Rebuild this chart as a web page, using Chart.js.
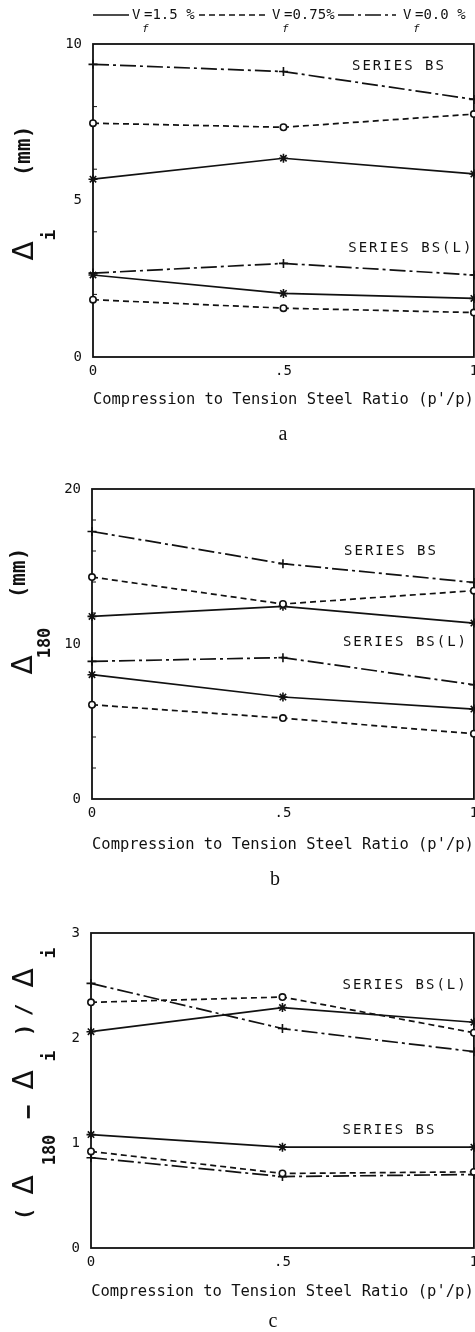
<!DOCTYPE html>
<html>
<head>
<meta charset="utf-8">
<script src="https://cdn.jsdelivr.net/npm/chart.js@4.4.1/dist/chart.umd.min.js"></script>
<style>
  body { margin: 0; background: #fff; width: 475px; height: 1332px; position: relative; overflow: hidden; }
  .panel { position: absolute; left: 0; }
  .cap { position: absolute; font-family: "Liberation Serif", "Times New Roman", serif; font-size: 20px; color: #111; transform: translate(-50%, -50%); line-height: 1; }
</style>
</head>
<body>
<div class="panel" style="top:0px"><canvas id="chartA" width="480" height="412"></canvas></div>
<div class="panel" style="top:440px"><canvas id="chartB" width="480" height="417"></canvas></div>
<div class="panel" style="top:880px"><canvas id="chartC" width="480" height="424"></canvas></div>
<div class="cap" style="left:283px; top:433px">a</div>
<div class="cap" style="left:275px; top:878px">b</div>
<div class="cap" style="left:273px; top:1320px">c</div>

<script>
var MONO = '"DejaVu Sans Mono", "Liberation Mono", monospace';
var SANS = '"DejaVu Sans", sans-serif';
var INK = '#111';

// compression to tension steel ratio (p'/p)
var ratios = [0, 0.5, 1];
var xTickText = ['0', '.5', '1'];

// a: initial deflection (mm)
var yTicksA = [0, 5, 10];
var initBS15 = [5.68, 6.35, 5.85];
var initBS075 = [7.47, 7.34, 7.76];
var initBS0 = [9.35, 9.12, 8.23];
var initBSL15 = [2.62, 2.03, 1.87];
var initBSL075 = [1.83, 1.56, 1.42];
var initBSL0 = [2.68, 2.99, 2.62];

// b: deflection after 180 days (mm)
var yTicksB = [0, 10, 20];
var longBS15 = [11.78, 12.43, 11.35];
var longBS075 = [14.32, 12.58, 13.44];
var longBS0 = [17.26, 15.18, 13.97];
var longBSL15 = [8.02, 6.58, 5.80];
var longBSL075 = [6.08, 5.22, 4.21];
var longBSL0 = [8.88, 9.12, 7.37];

// c: (d180 - di) / di
var yTicksC = [0, 1, 2, 3];
var ratioBS15 = [1.08, 0.96, 0.96];
var ratioBS075 = [0.92, 0.71, 0.725];
var ratioBS0 = [0.86, 0.68, 0.70];
var ratioBSL15 = [2.06, 2.29, 2.15];
var ratioBSL075 = [2.34, 2.39, 2.05];
var ratioBSL0 = [2.52, 2.09, 1.87];

var lineStyles = {
    v15: { dash: [], point: 'star', radius: 4.5 },
    v075: { dash: [6, 4], point: 'circle', radius: 3.2 },
    v0: { dash: [16, 4, 3, 4], point: 'cross', radius: 4.5 }
};

function series(label, values, style) {
    var s = lineStyles[style];
    return {
        label: label,
        data: values.map(function (v, i) { return { x: ratios[i], y: v }; }),
        borderColor: INK,
        borderWidth: 1.7,
        borderDash: s.dash,
        pointStyle: s.point,
        pointRadius: s.radius,
        pointBorderWidth: 1.6,
        pointBorderColor: INK,
        pointBackgroundColor: '#fff',
        tension: 0,
        clip: false
    };
}

function rotText(ctx, text, font, x, y) {
    ctx.save();
    ctx.translate(x, y);
    ctx.rotate(-Math.PI / 2);
    ctx.font = font;
    ctx.fillStyle = INK;
    ctx.textAlign = 'center';
    ctx.textBaseline = 'alphabetic';
    ctx.fillText(text, 0, 0);
    ctx.restore();
}

function drawLegend(ctx) {
    var items = [
        { style: 'v15', x0: 93, x1: 129, vx: 132, text: '=1.5 %' },
        { style: 'v075', x0: 199, x1: 266, vx: 272, text: '=0.75%' },
        { style: 'v0', x0: 338, x1: 396, vx: 403, text: '=0.0 %' }
    ];
    items.forEach(function (it) {
        ctx.save();
        ctx.strokeStyle = INK;
        ctx.lineWidth = 1.6;
        ctx.setLineDash(lineStyles[it.style].dash);
        ctx.beginPath();
        ctx.moveTo(it.x0, 15);
        ctx.lineTo(it.x1, 15);
        ctx.stroke();
        ctx.setLineDash([]);
        ctx.fillStyle = INK;
        ctx.textBaseline = 'middle';
        ctx.textAlign = 'left';
        ctx.font = '14px ' + MONO;
        ctx.fillText('V', it.vx, 15);
        ctx.fillText(it.text, it.vx + 12, 15);
        ctx.font = 'italic 11px ' + MONO;
        ctx.fillText('f', it.vx + 10, 29);
        ctx.restore();
    });
}

function decor(p) {
    return {
        id: 'decor' + p.id,
        beforeDatasetsDraw: function (chart) {
            var a = chart.chartArea, ctx = chart.ctx, ys = chart.scales.y;
            ctx.save();
            ctx.strokeStyle = INK;
            ctx.lineWidth = 1.8;
            ctx.strokeRect(a.left, a.top, a.right - a.left, a.bottom - a.top);
            ctx.lineWidth = 1;
            p.minor.forEach(function (v) {
                var y = ys.getPixelForValue(v);
                ctx.beginPath();
                ctx.moveTo(a.left, y);
                ctx.lineTo(a.left + 4, y);
                ctx.stroke();
            });
            ctx.restore();
        },
        afterDraw: function (chart) {
            var ctx = chart.ctx, xs = chart.scales.x, ys = chart.scales.y, a = chart.chartArea;
            ctx.save();
            ctx.fillStyle = INK;
            ctx.textBaseline = 'middle';
            // x tick labels, placed through the x scale
            ctx.font = '14px ' + MONO;
            ctx.textAlign = 'center';
            ratios.forEach(function (r, i) {
                ctx.fillText(xTickText[i], xs.getPixelForValue(r), a.bottom + 14);
            });
            ctx.letterSpacing = '2px';
            ctx.textAlign = 'left';
            p.notes.forEach(function (n) {
                ctx.fillText(n.text, xs.getPixelForValue(n.x), ys.getPixelForValue(n.y));
            });
            ctx.restore();
            p.ylabel.forEach(function (t) {
                rotText(ctx, t.t, t.f, t.x, t.y - p.top);
            });
            if (p.legend) drawLegend(ctx);
        }
    };
}

function makePanel(canvasId, p, datasets) {
    return new Chart(document.getElementById(canvasId).getContext('2d'), {
        type: 'line',
        data: { datasets: datasets },
        options: {
            responsive: false,
            animation: false,
            events: [],
            layout: { padding: { top: p.plotTop - p.top, right: 480 - 474, left: 0, bottom: 0 } },
            plugins: { legend: { display: false }, tooltip: { enabled: false } },
            scales: {
                x: {
                    type: 'linear',
                    min: 0,
                    max: 1,
                    grid: { display: false, drawTicks: false },
                    border: { display: false },
                    ticks: { display: false },
                    title: {
                        display: true,
                        text: "Compression to Tension Steel Ratio (p'/p)",
                        color: INK,
                        font: { family: MONO, size: 15.5 },
                        padding: { top: 0, bottom: 2.7 }
                    },
                    afterFit: function (s) {
                        s.height = p.top + p.height - p.plotBottom;
                    }
                },
                y: {
                    min: 0,
                    max: p.yMax,
                    grid: { display: false, drawTicks: false },
                    border: { display: false },
                    afterBuildTicks: function (s) {
                        s.ticks = p.yTicks.map(function (v) { return { value: v }; });
                    },
                    ticks: {
                        padding: 11,
                        color: INK,
                        autoSkip: false,
                        font: { family: MONO, size: 14 }
                    },
                    afterFit: function (s) { s.width = p.plotLeft; }
                }
            }
        },
        plugins: [decor(p)]
    });
}

var D = '28px ' + SANS;
var SUB = 'bold 18px ' + MONO;
var SUB3 = 'bold 17px ' + MONO;
var PAR = 'bold 21px ' + MONO;

makePanel('chartA', {
    id: 'A', top: 0, height: 412, plotTop: 44, plotBottom: 357, plotLeft: 93,
    yMax: 10, yTicks: yTicksA, minor: [2, 4, 6, 8], legend: true,
    notes: [{ text: 'SERIES BS', x: 0.68, y: 9.27 }, { text: 'SERIES BS(L)', x: 0.67, y: 3.48 }],
    ylabel: [
        { t: 'Δ', f: D, x: 33, y: 251 },
        { t: 'i', f: SUB, x: 55, y: 235 },
        { t: '(mm)', f: PAR, x: 30, y: 151 }
    ]
}, [
    series('BS Vf=0.0%', initBS0, 'v0'),
    series('BS Vf=0.75%', initBS075, 'v075'),
    series('BS Vf=1.5%', initBS15, 'v15'),
    series('BS(L) Vf=0.0%', initBSL0, 'v0'),
    series('BS(L) Vf=1.5%', initBSL15, 'v15'),
    series('BS(L) Vf=0.75%', initBSL075, 'v075')
]);

makePanel('chartB', {
    id: 'B', top: 440, height: 417, plotTop: 489, plotBottom: 799, plotLeft: 92,
    yMax: 20, yTicks: yTicksB, minor: [2, 4, 6, 8, 12, 14, 16, 18], legend: false,
    notes: [{ text: 'SERIES BS', x: 0.66, y: 15.95 }, { text: 'SERIES BS(L)', x: 0.657, y: 10.08 }],
    ylabel: [
        { t: 'Δ', f: D, x: 32, y: 665 },
        { t: '180', f: SUB3, x: 50, y: 643 },
        { t: '(mm)', f: PAR, x: 25, y: 573 }
    ]
}, [
    series('BS Vf=0.0%', longBS0, 'v0'),
    series('BS Vf=0.75%', longBS075, 'v075'),
    series('BS Vf=1.5%', longBS15, 'v15'),
    series('BS(L) Vf=0.0%', longBSL0, 'v0'),
    series('BS(L) Vf=1.5%', longBSL15, 'v15'),
    series('BS(L) Vf=0.75%', longBSL075, 'v075')
]);

makePanel('chartC', {
    id: 'C', top: 880, height: 424, plotTop: 933, plotBottom: 1248, plotLeft: 91,
    yMax: 3, yTicks: yTicksC, minor: [], legend: false,
    notes: [{ text: 'SERIES BS(L)', x: 0.657, y: 2.5 }, { text: 'SERIES BS', x: 0.657, y: 1.12 }],
    ylabel: [
        { t: '(', f: PAR, x: 31, y: 1214 },
        { t: 'Δ', f: D, x: 33, y: 1185 },
        { t: '180', f: SUB3, x: 55, y: 1150 },
        { t: '−', f: 'bold 24px ' + MONO, x: 36, y: 1112 },
        { t: 'Δ', f: D, x: 33, y: 1080 },
        { t: 'i', f: SUB, x: 55, y: 1056 },
        { t: ')', f: PAR, x: 31, y: 1030 },
        { t: '/', f: PAR, x: 31, y: 1010 },
        { t: 'Δ', f: D, x: 33, y: 978 },
        { t: 'i', f: SUB, x: 55, y: 953 }
    ]
}, [
    series('BS(L) Vf=0.0%', ratioBSL0, 'v0'),
    series('BS(L) Vf=0.75%', ratioBSL075, 'v075'),
    series('BS(L) Vf=1.5%', ratioBSL15, 'v15'),
    series('BS Vf=1.5%', ratioBS15, 'v15'),
    series('BS Vf=0.75%', ratioBS075, 'v075'),
    series('BS Vf=0.0%', ratioBS0, 'v0')
]);
</script>
</body>
</html>
